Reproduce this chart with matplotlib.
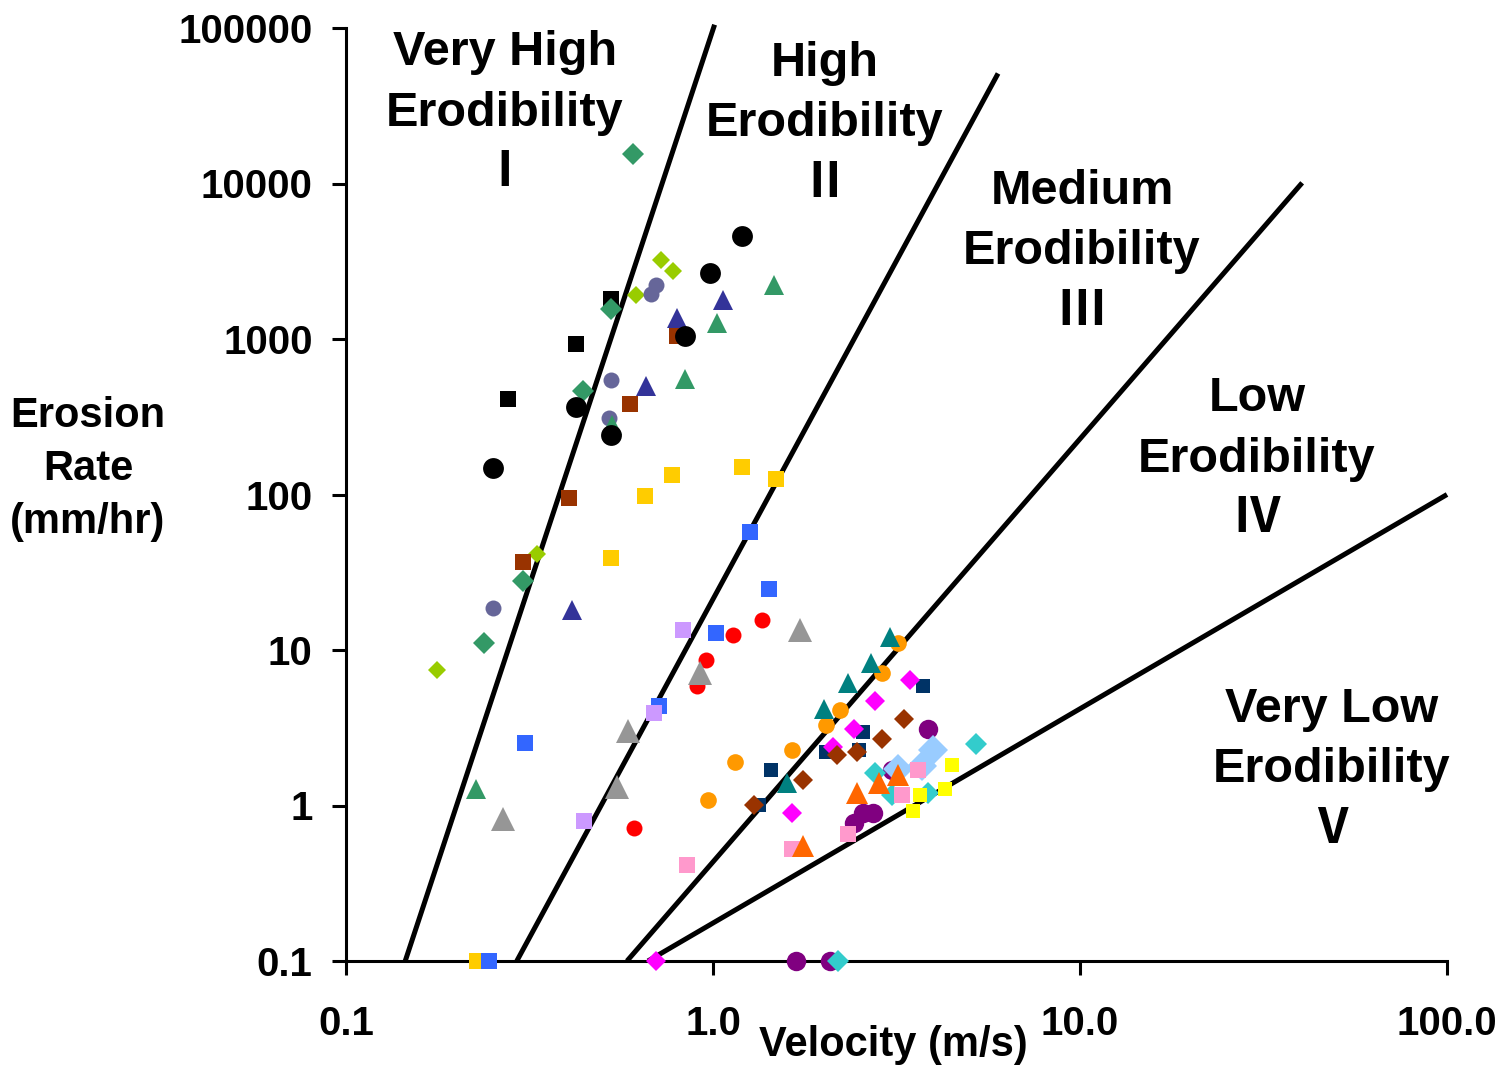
import matplotlib
matplotlib.use("Agg")
import matplotlib.pyplot as plt
from matplotlib.ticker import FixedLocator, NullLocator

plt.rcParams['font.family'] = ['Liberation Sans', 'Noto Sans CJK JP', 'DejaVu Sans']

# ---- data: (velocity m/s, erosion rate mm/hr) per series ----
black_circ_x = [1.20, 0.98, 0.84, 0.423, 0.527, 0.252]
black_circ_y = [4630, 2640, 1040, 363, 240, 147]
black_sq_x = [0.527, 0.423, 0.276]
black_sq_y = [1820, 923, 409]
green_dia_x = [0.605, 0.527, 0.442, 0.303, 0.238]
green_dia_y = [15400, 1550, 464, 27.7, 11.1]
lime_dia_x = [0.721, 0.779, 0.617, 0.331, 0.177]
lime_dia_y = [3220, 2720, 1910, 41.3, 7.47]
slate_circ_x = [0.699, 0.678, 0.527, 0.521, 0.252]
slate_circ_y = [2210, 1950, 542, 311, 18.6]
dblue_tri_x = [1.065, 0.798, 0.657, 0.413]
dblue_tri_y = [1780, 1360, 500, 18.2]
green_tri_x = [1.466, 1.025, 0.839, 0.531, 0.226]
green_tri_y = [2240, 1270, 550, 279, 1.27]
brown_sq_x = [0.798, 0.594, 0.405, 0.303]
brown_sq_y = [1050, 383, 94.6, 36.9]
gold_sq_x = [1.20, 1.485, 0.773, 0.653, 0.527, 0.227]
gold_sq_y = [150, 125, 133, 97.3, 39.2, 0.1]
blue_sq_x = [1.26, 1.42, 1.02, 0.713, 0.307, 0.245]
blue_sq_y = [57.2, 24.6, 12.8, 4.35, 2.52, 0.1]
red_circ_x = [1.36, 1.133, 0.957, 0.904, 0.609]
red_circ_y = [15.6, 12.4, 8.60, 5.85, 0.721]
lav_sq_x = [0.828, 0.691, 0.445]
lav_sq_y = [13.5, 3.95, 0.794]
gray_tri_x = [1.726, 0.922, 0.587, 0.548, 0.268]
gray_tri_y = [13.5, 7.15, 3.03, 1.32, 0.824]
pink_sq_x = [0.849, 1.642, 2.333, 3.274, 3.62]
pink_sq_y = [0.414, 0.528, 0.660, 1.17, 1.68]
orange_circ_x = [3.19, 2.89, 2.22, 2.03, 1.64, 1.148, 0.969]
orange_circ_y = [11.1, 7.15, 4.10, 3.31, 2.29, 1.90, 1.08]
teal_tri_x = [3.04, 2.70, 2.33, 2.01, 1.59]
teal_tri_y = [12.1, 8.28, 6.17, 4.20, 1.40]
navy_sq_x = [3.73, 2.56, 2.03, 2.50, 1.44, 1.334]
navy_sq_y = [5.85, 2.96, 2.22, 2.29, 1.68, 1.01]
mag_dia_x = [3.44, 2.76, 2.42, 2.12, 1.64, 0.70]
mag_dia_y = [6.40, 4.69, 3.12, 2.37, 0.894, 0.1]
brown_dia_x = [3.31, 2.89, 2.47, 2.18, 1.76, 1.29]
brown_dia_y = [3.59, 2.67, 2.22, 2.12, 1.45, 1.01]
purple_circ_x = [3.85, 3.07, 2.73, 2.56, 2.42, 1.68, 2.08]
purple_circ_y = [3.12, 1.68, 0.894, 0.90, 0.771, 0.1, 0.1]
lblue_dia_x = [3.98, 3.70, 3.19]
lblue_dia_y = [2.29, 1.80, 1.72]
turq_dia_x = [5.21, 3.85, 3.07, 2.76, 2.19]
turq_dia_y = [2.48, 1.21, 1.17, 1.62, 0.1]
ored_tri_x = [3.19, 2.83, 2.47, 1.76]
ored_tri_y = [1.57, 1.40, 1.21, 0.548]
yellow_sq_x = [4.48, 4.29, 3.67, 3.51]
yellow_sq_y = [1.82, 1.28, 1.17, 0.927]

# boundary lines between erodibility categories
bound_x = [[0.145, 1.01], [0.292, 5.98], [0.583, 40.3], [0.665, 100.0]]
bound_y = [[0.1, 105000], [0.1, 51000], [0.1, 10100], [0.1, 100]]

x_ticks = [0.1, 1.0, 10.0, 100.0]
x_ticklabels = ["0.1", "1.0", "10.0", "100.0"]
y_ticks = [0.1, 1, 10, 100, 1000, 10000, 100000]
y_ticklabels = ["0.1", "1", "10", "100", "1000", "10000", "100000"]

zones = [
    ("Very High\nErodibility\nⅠ", 505, 113),
    ("High\nErodibility\nⅡ", 825, 124),
    ("Medium\nErodibility\nⅢ", 1082, 252),
    ("Low\nErodibility\nⅣ", 1257, 459),
    ("Very Low\nErodibility\nⅤ", 1332, 770),
]

W, H = 1502, 1071
fig = plt.figure(figsize=(W / 100, H / 100), dpi=100)
ax = fig.add_axes([346 / W, 1 - 961 / H, (1447 - 346) / W, (961 - 28) / H])
ax.set_xscale('log')
ax.set_yscale('log')
ax.set_xlim(0.1, 100)
ax.set_ylim(0.1, 100000)

for bx, by in zip(bound_x, bound_y):
    ax.plot(bx, by, color='black', lw=3.6, solid_capstyle='butt', zorder=2, clip_on=False)

series = [
    (black_sq_x, black_sq_y, 's', '#000000', 11),
    (green_dia_x, green_dia_y, 'D', '#339966', 11.5),
    (lime_dia_x, lime_dia_y, 'D', '#99CC00', 9.5),
    (slate_circ_x, slate_circ_y, 'o', '#666699', 11.5),
    (dblue_tri_x, dblue_tri_y, '^', '#333399', 14),
    (green_tri_x, green_tri_y, '^', '#339966', 14),
    (brown_sq_x, brown_sq_y, 's', '#993300', 12),
    (black_circ_x, black_circ_y, 'o', '#000000', 15),
    (gold_sq_x, gold_sq_y, 's', '#FFCC00', 12),
    (blue_sq_x, blue_sq_y, 's', '#3366FF', 12),
    (red_circ_x, red_circ_y, 'o', '#FF0000', 11.5),
    (lav_sq_x, lav_sq_y, 's', '#CC99FF', 12),
    (gray_tri_x, gray_tri_y, '^', '#969696', 17),
    (orange_circ_x, orange_circ_y, 'o', '#FF9900', 12),
    (teal_tri_x, teal_tri_y, '^', '#008080', 14),
    (navy_sq_x, navy_sq_y, 's', '#003366', 10),
    (mag_dia_x, mag_dia_y, 'D', '#FF00FF', 10),
    (brown_dia_x, brown_dia_y, 'D', '#993300', 10.5),
    (purple_circ_x, purple_circ_y, 'o', '#800080', 14),
    (lblue_dia_x, lblue_dia_y, 'D', '#99CCFF', 15),
    (turq_dia_x, turq_dia_y, 'D', '#33CCCC', 11.5),
    (pink_sq_x, pink_sq_y, 's', '#FF99CC', 12),
    (ored_tri_x, ored_tri_y, '^', '#FF6600', 16),
    (yellow_sq_x, yellow_sq_y, 's', '#FFFF00', 9.5),
]
for xs, ys, m, c, ms in series:
    ax.plot(xs, ys, linestyle='none', marker=m, color=c, markersize=ms,
            markeredgewidth=0, zorder=3, clip_on=False)

for s in ['top', 'right']:
    ax.spines[s].set_visible(False)
for s in ['left', 'bottom']:
    ax.spines[s].set_linewidth(2.2)
    ax.spines[s].set_zorder(2.5)

ax.xaxis.set_major_locator(FixedLocator(x_ticks))
ax.yaxis.set_major_locator(FixedLocator(y_ticks))
ax.xaxis.set_minor_locator(NullLocator())
ax.yaxis.set_minor_locator(NullLocator())
ax.set_xticklabels(x_ticklabels)
ax.set_yticklabels(y_ticklabels)
ax.tick_params(axis='both', direction='out', length=10, width=2.2, labelsize=29)
ax.tick_params(axis='x', pad=22)
ax.tick_params(axis='y', pad=14)
for lab in ax.get_xticklabels() + ax.get_yticklabels():
    lab.set_fontweight('bold')

fig.text(893 / W, 1 - 1045 / H, "Velocity (m/s)", ha='center', va='center',
         fontsize=30, fontweight='bold')
fig.text(88 / W, 1 - 469 / H, "Erosion\nRate\n(mm/hr)", ha='center', va='center',
         fontsize=30, fontweight='bold', linespacing=1.43)

for txt, px, py in zones:
    fig.text(px / W, 1 - py / H, txt, ha='center', va='center', fontsize=35,
             fontweight='bold', linespacing=1.44)

fig.savefig("out.png", dpi=100)
